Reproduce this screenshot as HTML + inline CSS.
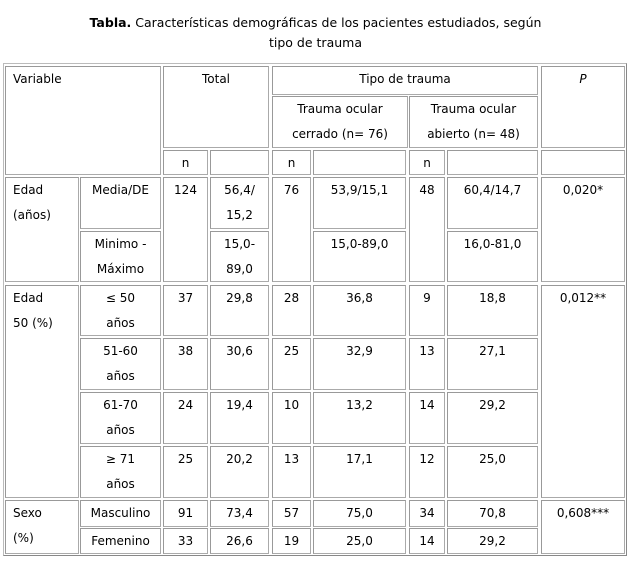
<!DOCTYPE html><html><head><meta charset="utf-8"><style>
body{margin:0;width:631px;height:562px;background:#fff;font-family:"DejaVu Sans",Verdana,sans-serif;font-size:12px;color:#000;position:relative;overflow:hidden}
.t{position:absolute;left:0;width:631px;text-align:center;font-size:12.5px;line-height:20px}
.o{position:absolute;left:3px;top:63px;width:622px;height:491px;border:1px solid #bbb;border-right-color:#888;border-bottom-color:#888}
.c{position:absolute;box-sizing:border-box;border:1px solid #aaa;border-top-color:#999;border-left-color:#999;text-align:center;line-height:25px;padding-top:0px}
.l{text-align:left;padding-left:7px}
</style></head><body>
<div class="t" style="top:13px"><b>Tabla.</b> Características demográficas de los pacientes estudiados, según<br>tipo de trauma</div>
<div class="o"></div>
<div class="c l" style="left:5px;top:66px;width:156px;height:109px">Variable</div>
<div class="c" style="left:163px;top:66px;width:106px;height:82px">Total</div>
<div class="c" style="left:272px;top:66px;width:266px;height:29px">Tipo de trauma</div>
<div class="c" style="left:541px;top:66px;width:84px;height:82px"><i>P</i></div>
<div class="c" style="left:272px;top:96px;width:136px;height:52px">Trauma ocular<br>cerrado (n= 76)</div>
<div class="c" style="left:409px;top:96px;width:129px;height:52px">Trauma ocular<br>abierto (n= 48)</div>
<div class="c" style="left:163px;top:150px;width:45px;height:25px">n</div>
<div class="c" style="left:210px;top:150px;width:59px;height:25px"></div>
<div class="c" style="left:272px;top:150px;width:39px;height:25px">n</div>
<div class="c" style="left:313px;top:150px;width:93px;height:25px"></div>
<div class="c" style="left:409px;top:150px;width:36px;height:25px">n</div>
<div class="c" style="left:447px;top:150px;width:91px;height:25px"></div>
<div class="c" style="left:541px;top:150px;width:84px;height:25px"></div>

<div class="c l" style="left:5px;top:177px;width:74px;height:105px">Edad<br>(años)</div>
<div class="c" style="left:80px;top:177px;width:81px;height:52px">Media/DE</div>
<div class="c" style="left:163px;top:177px;width:45px;height:105px">124</div>
<div class="c" style="left:210px;top:177px;width:59px;height:52px">56,4/<br>15,2</div>
<div class="c" style="left:272px;top:177px;width:39px;height:105px">76</div>
<div class="c" style="left:313px;top:177px;width:93px;height:52px">53,9/15,1</div>
<div class="c" style="left:409px;top:177px;width:36px;height:105px">48</div>
<div class="c" style="left:447px;top:177px;width:91px;height:52px">60,4/14,7</div>
<div class="c" style="left:541px;top:177px;width:84px;height:105px">0,020*</div>
<div class="c" style="left:80px;top:231px;width:81px;height:51px">Minimo -<br>Máximo</div>
<div class="c" style="left:210px;top:231px;width:59px;height:51px">15,0-<br>89,0</div>
<div class="c" style="left:313px;top:231px;width:93px;height:51px">15,0-89,0</div>
<div class="c" style="left:447px;top:231px;width:91px;height:51px">16,0-81,0</div>

<div class="c l" style="left:5px;top:285px;width:74px;height:213px">Edad<br>50 (%)</div>
<div class="c" style="left:541px;top:285px;width:84px;height:213px">0,012**</div>

<div class="c" style="left:80px;top:285px;width:81px;height:51px">≤ 50<br>años</div>
<div class="c" style="left:163px;top:285px;width:45px;height:51px">37</div>
<div class="c" style="left:210px;top:285px;width:59px;height:51px">29,8</div>
<div class="c" style="left:272px;top:285px;width:39px;height:51px">28</div>
<div class="c" style="left:313px;top:285px;width:93px;height:51px">36,8</div>
<div class="c" style="left:409px;top:285px;width:36px;height:51px">9</div>
<div class="c" style="left:447px;top:285px;width:91px;height:51px">18,8</div>

<div class="c" style="left:80px;top:338px;width:81px;height:52px">51-60<br>años</div>
<div class="c" style="left:163px;top:338px;width:45px;height:52px">38</div>
<div class="c" style="left:210px;top:338px;width:59px;height:52px">30,6</div>
<div class="c" style="left:272px;top:338px;width:39px;height:52px">25</div>
<div class="c" style="left:313px;top:338px;width:93px;height:52px">32,9</div>
<div class="c" style="left:409px;top:338px;width:36px;height:52px">13</div>
<div class="c" style="left:447px;top:338px;width:91px;height:52px">27,1</div>

<div class="c" style="left:80px;top:392px;width:81px;height:52px">61-70<br>años</div>
<div class="c" style="left:163px;top:392px;width:45px;height:52px">24</div>
<div class="c" style="left:210px;top:392px;width:59px;height:52px">19,4</div>
<div class="c" style="left:272px;top:392px;width:39px;height:52px">10</div>
<div class="c" style="left:313px;top:392px;width:93px;height:52px">13,2</div>
<div class="c" style="left:409px;top:392px;width:36px;height:52px">14</div>
<div class="c" style="left:447px;top:392px;width:91px;height:52px">29,2</div>

<div class="c" style="left:80px;top:446px;width:81px;height:52px">≥ 71<br>años</div>
<div class="c" style="left:163px;top:446px;width:45px;height:52px">25</div>
<div class="c" style="left:210px;top:446px;width:59px;height:52px">20,2</div>
<div class="c" style="left:272px;top:446px;width:39px;height:52px">13</div>
<div class="c" style="left:313px;top:446px;width:93px;height:52px">17,1</div>
<div class="c" style="left:409px;top:446px;width:36px;height:52px">12</div>
<div class="c" style="left:447px;top:446px;width:91px;height:52px">25,0</div>

<div class="c l" style="left:5px;top:500px;width:74px;height:54px">Sexo<br>(%)</div>
<div class="c" style="left:541px;top:500px;width:84px;height:54px">0,608***</div>

<div class="c" style="left:80px;top:500px;width:81px;height:27px">Masculino</div>
<div class="c" style="left:163px;top:500px;width:45px;height:27px">91</div>
<div class="c" style="left:210px;top:500px;width:59px;height:27px">73,4</div>
<div class="c" style="left:272px;top:500px;width:39px;height:27px">57</div>
<div class="c" style="left:313px;top:500px;width:93px;height:27px">75,0</div>
<div class="c" style="left:409px;top:500px;width:36px;height:27px">34</div>
<div class="c" style="left:447px;top:500px;width:91px;height:27px">70,8</div>

<div class="c" style="left:80px;top:528px;width:81px;height:26px">Femenino</div>
<div class="c" style="left:163px;top:528px;width:45px;height:26px">33</div>
<div class="c" style="left:210px;top:528px;width:59px;height:26px">26,6</div>
<div class="c" style="left:272px;top:528px;width:39px;height:26px">19</div>
<div class="c" style="left:313px;top:528px;width:93px;height:26px">25,0</div>
<div class="c" style="left:409px;top:528px;width:36px;height:26px">14</div>
<div class="c" style="left:447px;top:528px;width:91px;height:26px">29,2</div>
</body></html>
